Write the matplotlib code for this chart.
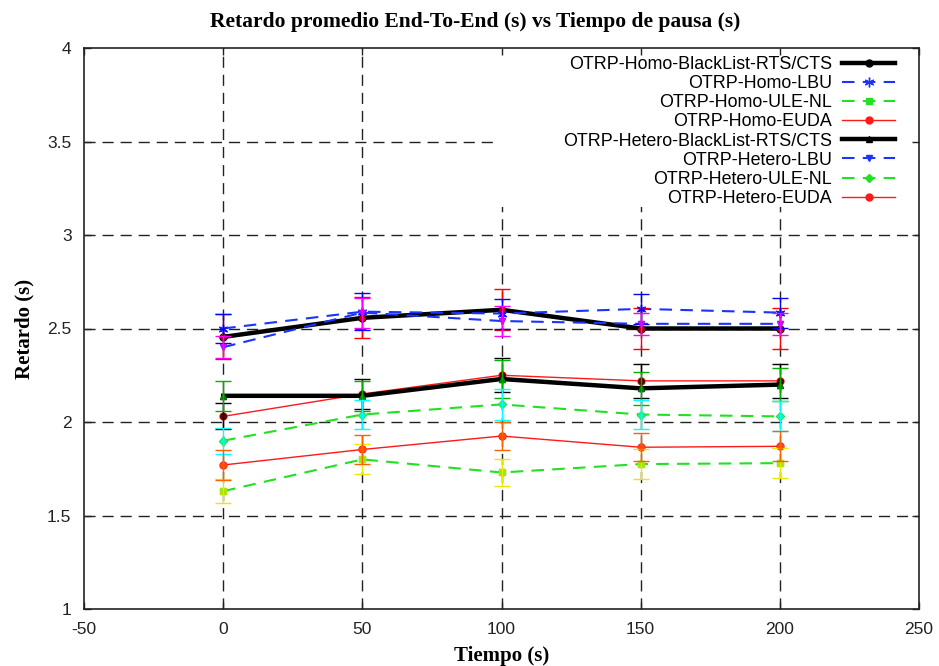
import matplotlib
matplotlib.use("Agg")
import matplotlib.pyplot as plt
from matplotlib.patches import Rectangle

plt.rcParams["axes.unicode_minus"] = False

# ---- data ----
pause_times = [0, 50, 100, 150, 200]

labels = [
    "OTRP-Homo-BlackList-RTS/CTS",
    "OTRP-Homo-LBU",
    "OTRP-Homo-ULE-NL",
    "OTRP-Homo-EUDA",
    "OTRP-Hetero-BlackList-RTS/CTS",
    "OTRP-Hetero-LBU",
    "OTRP-Hetero-ULE-NL",
    "OTRP-Hetero-EUDA",
]

homo_blacklist = [2.455, 2.557, 2.600, 2.500, 2.500]
homo_lbu = [2.500, 2.590, 2.580, 2.605, 2.585]
homo_ule_nl = [1.630, 1.800, 1.730, 1.775, 1.780]
homo_euda = [2.030, 2.150, 2.250, 2.220, 2.220]
hetero_blacklist = [2.140, 2.140, 2.230, 2.180, 2.200]
hetero_lbu = [2.400, 2.585, 2.540, 2.525, 2.525]
hetero_ule_nl = [1.900, 2.040, 2.094, 2.040, 2.030]
hetero_euda = [1.770, 1.853, 1.925, 1.865, 1.870]

err_homo_blacklist = [0.12, 0.11, 0.11, 0.11, 0.11]
err_homo_lbu = [0.08, 0.10, 0.08, 0.08, 0.08]
err_homo_ule_nl = [0.065, 0.08, 0.07, 0.08, 0.08]
err_homo_euda = [0.07, 0.08, 0.09, 0.09, 0.09]
err_hetero_blacklist = [0.08, 0.08, 0.10, 0.09, 0.09]
err_hetero_lbu = [0.06, 0.08, 0.08, 0.06, 0.06]
err_hetero_ule_nl = [0.07, 0.08, 0.085, 0.075, 0.08]
err_hetero_euda = [0.08, 0.08, 0.075, 0.075, 0.08]

x_ticks = [-50, 0, 50, 100, 150, 200, 250]
y_ticks = [1, 1.5, 2, 2.5, 3, 3.5, 4]
y_tick_labels = ["1", "1.5", "2", "2.5", "3", "3.5", "4"]

series = [homo_blacklist, homo_lbu, homo_ule_nl, homo_euda,
          hetero_blacklist, hetero_lbu, hetero_ule_nl, hetero_euda]
errors = [err_homo_blacklist, err_homo_lbu, err_homo_ule_nl, err_homo_euda,
          err_hetero_blacklist, err_hetero_lbu, err_hetero_ule_nl, err_hetero_euda]

# ---- styles ----
line_colors = ["black", "#1a33ff", "#22e022", "#ff1a1a",
               "black", "#1a33ff", "#22e022", "#ff1a1a"]
err_colors = ["#ff0000", "#0000ff", "#e8e800", "#000000",
              "#00b000", "#ff00ff", "#00ffff", "#ff6000"]
line_widths = [3.2, 1.5, 1.5, 1.0, 3.2, 1.5, 1.5, 1.0]
line_styles = ["-", (0, (6, 4)), (0, (6, 4)), "-",
               "-", (0, (6, 4)), (0, (6, 4)), "-"]
markers = ["o", (6, 2, 0), "s", "o", "^", "v", "D", "o"]
msizes = [5, 7, 5, 5, 5, 5, 4, 5]

W, H = 939, 666
L, R, T, B = 84, 919, 48, 609
fig = plt.figure(figsize=(W / 100, H / 100), dpi=100)
ax = fig.add_axes([L / W, 1 - B / H, (R - L) / W, (B - T) / H])

sans = ["Liberation Sans", "DejaVu Sans"]
serif = ["Liberation Serif", "DejaVu Serif"]

ax.set_xlim(-50, 250)
ax.set_ylim(1, 4)
ax.set_xticks(x_ticks)
ax.set_yticks(y_ticks)
ax.set_yticklabels(y_tick_labels)
for lab in ax.get_xticklabels() + ax.get_yticklabels():
    lab.set_family(sans)
    lab.set_fontsize(12.5)
    lab.set_color("#222222")
ax.tick_params(direction="in", length=5, width=1, pad=9,
               top=True, right=True, color="#222222")

# grid (inner lines only)
grid_style = dict(color="#222222", linestyle=(0, (8, 5)), linewidth=1.0, zorder=0.2)
for xv in x_ticks[1:-1]:
    ax.axvline(xv, **grid_style)
for yv in y_ticks[1:-1]:
    ax.axhline(yv, **grid_style)

# opaque key area (as in the original gnuplot output)
ax.add_patch(Rectangle(((494 - L) / (R - L), 1 - (207 - T) / (B - T)),
                       1 - (494 - L) / (R - L), (207 - T) / (B - T),
                       transform=ax.transAxes, facecolor="white",
                       edgecolor="none", zorder=0.3))

for sp in ax.spines.values():
    sp.set_linewidth(1.2)
    sp.set_color("#222222")

for i in range(8):
    ax.plot(pause_times, series[i], color=line_colors[i], lw=line_widths[i],
            linestyle=line_styles[i], marker=markers[i], ms=msizes[i],
            mec=line_colors[i], mfc=line_colors[i], label=labels[i], zorder=3)
for i in range(8):
    ax.errorbar(pause_times, series[i], yerr=errors[i], fmt="none",
                ecolor=err_colors[i], elinewidth=1.0, capsize=6, capthick=1.0,
                zorder=4)
    ax.plot(pause_times, series[i], linestyle="none", marker=markers[i],
            ms=msizes[i] - 1, color=err_colors[i], alpha=0.6, zorder=4)

leg = ax.legend(loc="upper right",
                bbox_to_anchor=(1 - 24 / (R - L), 1 - 8 / (B - T)),
                markerfirst=False, frameon=False,
                prop={"family": sans, "size": 12.9},
                handlelength=2.95, handletextpad=0.56, labelspacing=0.12,
                borderpad=0.0, borderaxespad=0.0)
leg.set_zorder(5)

ax.set_title("Retardo promedio End-To-End (s) vs Tiempo de pausa (s)",
             family=serif, fontweight="bold", fontsize=15.5, pad=15,
             x=(475 - L) / (R - L))
ax.set_xlabel("Tiempo (s)", family=serif, fontweight="bold", fontsize=15, labelpad=7)
ax.set_ylabel("Retardo (s)", family=serif, fontweight="bold", fontsize=15, labelpad=9)

fig.savefig("out.png", dpi=100)
